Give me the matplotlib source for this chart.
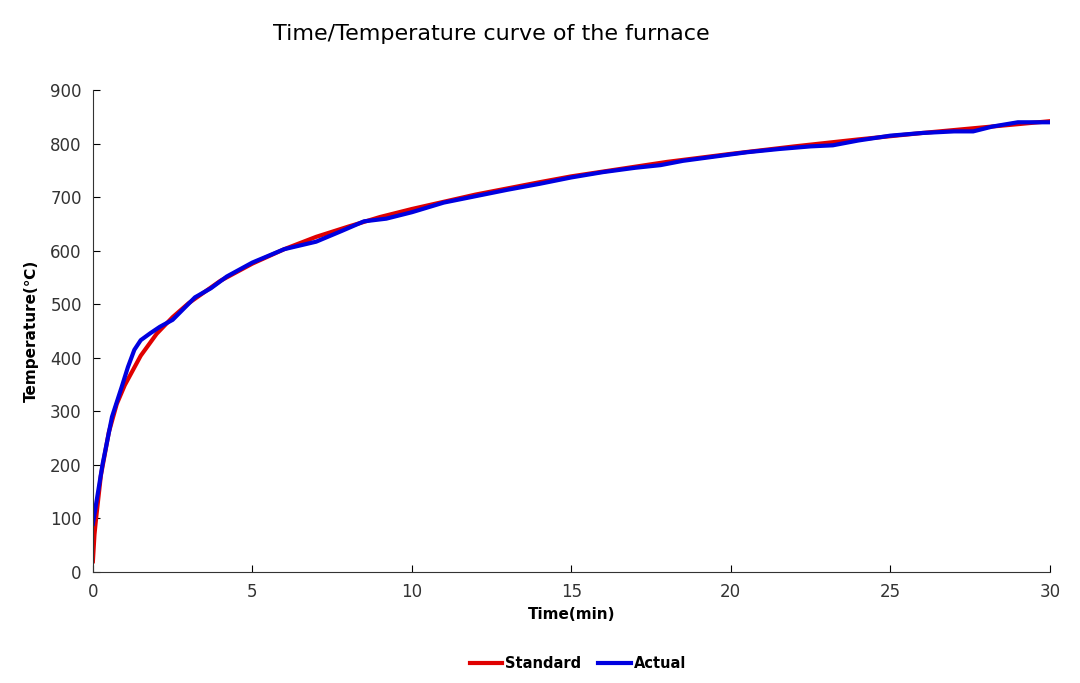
import matplotlib
matplotlib.use('Agg')
import matplotlib.pyplot as plt

# Standard fire curve
std_time = [0, 0.05, 0.1, 0.25, 0.5, 0.75, 1, 1.5, 2, 2.5, 3, 4, 5, 6, 7, 8, 9, 10,
            12, 14, 15, 16, 18, 20, 22, 24, 26, 28, 30]
std_temp = [20, 70, 100, 180, 261, 314, 349, 404, 445, 476, 502, 544, 576, 603, 626, 645, 663, 678,
            705, 728, 739, 748, 766, 781, 795, 808, 820, 831, 842]

# Measured furnace temperature
act_time = [0, 0.3, 0.6, 0.9, 1.1, 1.3, 1.5, 1.8, 2.1, 2.5, 2.8, 3.2, 3.7, 4.2, 5, 6, 7, 7.8,
            8.5, 9.2, 10, 11, 12, 13, 14, 15, 16, 17, 17.8, 18.5, 19.5, 20.5, 21.5, 22.5, 23.2,
            24, 25, 26, 27, 27.6, 28.2, 29, 29.6, 30]
act_temp = [90, 200, 290, 345, 383, 415, 433, 446, 458, 471, 489, 513, 530, 552, 578, 603, 617, 637,
            655, 660, 672, 690, 702, 714, 725, 737, 747, 755, 760, 768, 776, 784, 790, 795, 797,
            806, 815, 820, 823, 823, 832, 840, 840, 840]

fig = plt.figure(figsize=(10.8, 6.83), dpi=100)
ax = fig.add_axes([0.086, 0.1625, 0.886, 0.7055])

ax.plot(std_time, std_temp, color='#e00000', lw=3, label='Standard')
ax.plot(act_time, act_temp, color='#0000e0', lw=3, label='Actual')

ax.set_xlim(0, 30)
ax.set_ylim(0, 900)
ax.set_xticks(range(0, 31, 5))
ax.set_yticks(range(0, 901, 100))
ax.tick_params(direction='in', length=5, labelsize=12, labelcolor='#333333', pad=8)
for s in ['top', 'right']:
    ax.spines[s].set_visible(False)
for s in ['left', 'bottom']:
    ax.spines[s].set_color('#333333')

ax.set_xlabel('Time(min)', fontsize=11, fontweight='bold', labelpad=4)
ax.set_ylabel('Temperature(\u2103)', fontsize=11, fontweight='bold', labelpad=8)
fig.suptitle('Time/Temperature curve of the furnace', fontsize=16, x=0.455, y=0.965)

fig.legend(loc='center', bbox_to_anchor=(0.535, 0.028), ncol=2, frameon=False,
           fontsize=10.5, handlelength=2.2, columnspacing=1.2, handletextpad=0.2,
           prop={'weight': 'bold', 'size': 10.5})

fig.savefig('out.png', dpi=100)
